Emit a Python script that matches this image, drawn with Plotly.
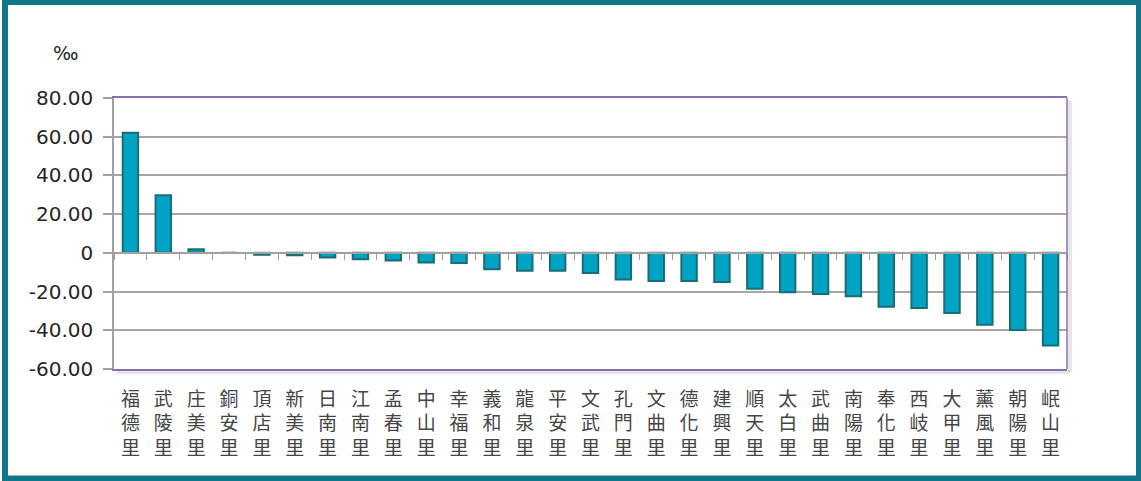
import plotly.graph_objects as go

categories = ["福德里", "武陵里", "庄美里", "銅安里", "頂店里", "新美里", "日南里", "江南里",
              "孟春里", "中山里", "幸福里", "義和里", "龍泉里", "平安里", "文武里", "孔門里",
              "文曲里", "德化里", "建興里", "順天里", "太白里", "武曲里", "南陽里", "奉化里",
              "西岐里", "大甲里", "薰風里", "朝陽里", "岷山里"]
values = [62.0, 29.8, 1.8, 0.0, -1.0, -1.2, -2.4, -3.3, -4.0, -5.0, -5.2, -8.5, -9.2, -9.2,
          -10.4, -13.7, -14.6, -14.5, -15.1, -18.6, -20.3, -21.2, -22.4, -27.8, -28.5, -31.1,
          -37.2, -39.8, -47.9]
y_tickvals = [80, 60, 40, 20, 0, -20, -40, -60]
y_ticktext = ["80.00", "60.00", "40.00", "20.00", "0", "-20.00", "-40.00", "-60.00"]
unit_label = "‰"

W, H = 1141, 481
ML, MR, MT, MB = 114, 74, 98, 112
PW, PH = W - ML - MR, H - MT - MB


def px(x):
    return (x - ML) / PW


def py(y):
    return (H - MB - y) / PH


fig = go.Figure()
fig.add_trace(go.Bar(
    x=categories, y=values,
    marker=dict(color="#00a3c4", line=dict(color="#1b6d74", width=2)),
    width=0.47, hoverinfo="x+y",
))
fig.add_trace(go.Scatter(x=categories, y=values, mode="none", xaxis="x2",
                         hoverinfo="skip", showlegend=False))

fig.update_layout(
    width=W, height=H,
    margin=dict(l=ML, r=MR, t=MT, b=MB),
    paper_bgcolor="white", plot_bgcolor="white",
    showlegend=False,
    xaxis=dict(
        type="category", range=[-0.5, len(categories) - 0.5],
        tickvals=categories, ticktext=["<br>".join(c) for c in categories],
        tickfont=dict(family="Noto Sans CJK TC", size=19, color="#454545"),
        ticks="", showgrid=False, showline=True, mirror=True,
        linecolor="#8a6fb0", linewidth=1.5, zeroline=False,
        ticklabelstandoff=12,
    ),
    xaxis2=dict(
        overlaying="x", anchor="free", position=60 / 140, matches="x",
        type="category", showline=True, linecolor="#a0a0a0", linewidth=1.5,
        ticks="outside", tickson="boundaries", ticklen=6, tickwidth=1.2,
        tickcolor="#a0a0a0", showticklabels=False, showgrid=False, zeroline=False,
    ),
    yaxis=dict(
        range=[-60, 80], tickvals=y_tickvals, ticktext=y_ticktext,
        tickfont=dict(family="DejaVu Sans", size=20, color="#262626"),
        showgrid=True, gridcolor="#a6a6a6", gridwidth=1.5,
        showline=True, linecolor="#a0a0a0", linewidth=1.5,
        ticks="outside", ticklen=9, tickwidth=1.5, tickcolor="#a0a0a0",
        zeroline=False, ticklabelstandoff=6,
    ),
    shapes=[
        dict(type="line", xref="paper", yref="paper", x0=1, x1=1, y0=0, y1=1,
             line=dict(color="#8a6fb0", width=1.5), layer="above"),
        dict(type="line", xref="paper", yref="paper", x0=px(ML + 3), x1=px(ML + PW + 3),
             y0=py(MT + PH + 3), y1=py(MT + PH + 3),
             line=dict(color="rgba(0,0,0,0.10)", width=4), layer="below"),
        dict(type="line", xref="paper", yref="paper", x0=px(ML + PW + 3), x1=px(ML + PW + 3),
             y0=py(MT + 3), y1=py(MT + PH + 3),
             line=dict(color="rgba(0,0,0,0.10)", width=4), layer="below"),
        dict(type="rect", xref="paper", yref="paper",
             x0=px(5), x1=px(1139), y0=py(2), y1=py(478.5),
             line=dict(color="#11768a", width=6), layer="above"),
    ],
    annotations=[
        dict(text=unit_label, xref="paper", yref="paper", x=px(66), y=py(53),
             xanchor="center", yanchor="middle", showarrow=False,
             font=dict(family="DejaVu Sans", size=19, color="#262626")),
    ],
)

fig.write_html("out.html", config={"displayModeBar": False},
               post_script="document.body.style.margin='0';")
